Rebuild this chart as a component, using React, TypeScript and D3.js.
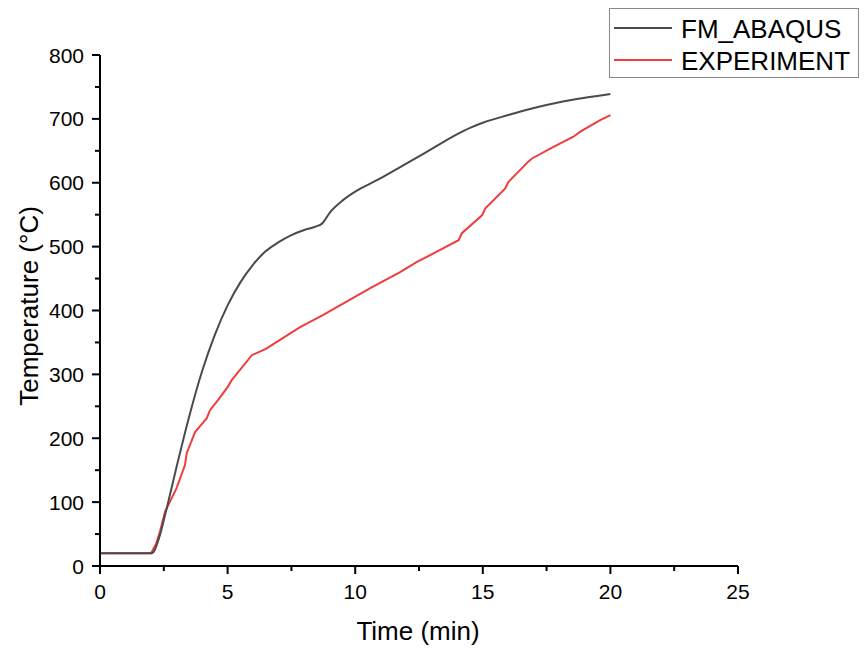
import React from "react";
import * as d3 from "d3";

const abaqusTime = [0, 2.0, 2.1, 2.3, 2.6, 3.0, 3.5, 4.0, 4.5, 5.0, 5.5, 6.0, 6.5, 7.0, 7.5, 8.0, 8.5, 8.7, 9.0, 9.5, 10, 10.85, 12, 13, 14, 14.5, 15, 16, 17, 18, 19, 20];
const abaqusTemp = [20, 20, 22, 42, 88, 155, 235, 305, 362, 408, 444, 472, 493, 507, 518, 526, 532, 536, 553, 572, 586, 604, 630, 653, 676, 686, 694, 706, 717, 726, 733, 739];

const expTime = [0, 2.0, 2.2, 2.35, 2.55, 3.0, 3.33, 3.4, 3.73, 4.18, 4.31, 4.63, 5.0, 5.16, 5.95, 6.5, 6.93, 7.84, 8.75, 9.54, 10.59, 11.76, 12.42, 13.2, 14.05, 14.18, 14.97, 15.1, 15.88, 16.0, 16.78, 16.93, 17.77, 18.55, 18.82, 19.6, 20];
const expTemp = [20, 20, 35, 54, 85, 122, 158, 177, 210, 231, 244, 260, 280, 291, 330, 340, 351, 374, 393, 411, 435, 460, 476, 492, 510, 521, 549, 560, 591, 601, 633, 638, 656, 672, 680, 698, 706];

const xTicks = [0, 5, 10, 15, 20, 25];
const yTicks = [0, 100, 200, 300, 400, 500, 600, 700, 800];
const seriesNames = ["FM_ABAQUS", "EXPERIMENT"];
const seriesColors = ["#4a4a4a", "#f03c3c"];

export default function App() {
  const W = 866, H = 650;
  const x = d3.scaleLinear().domain([0, 25]).range([100, 738]);
  const y = d3.scaleLinear().domain([0, 800]).range([566, 55]);
  const smooth = d3.line<[number, number]>().x(d => x(d[0])).y(d => y(d[1])).curve(d3.curveMonotoneX);
  const line = d3.line<[number, number]>().x(d => x(d[0])).y(d => y(d[1]));
  const abaqus = abaqusTime.map((t, i) => [t, abaqusTemp[i]] as [number, number]);
  const exp = expTime.map((t, i) => [t, expTemp[i]] as [number, number]);
  const xMinor = d3.range(2.5, 25, 5);
  const yMinor = d3.range(50, 800, 100);
  const font = "Arial, 'Liberation Sans', sans-serif";
  return (
    <svg width={W} height={H} style={{ position: "absolute", left: 0, top: 0, background: "#fff" }} fontFamily={font}>
      <rect width={W} height={H} fill="#fff" />
      <path d={line(exp) || ""} fill="none" stroke={seriesColors[1]} strokeWidth={2} />
      <path d={smooth(abaqus) || ""} fill="none" stroke={seriesColors[0]} strokeWidth={2} />
      <line x1={x(0)} x2={x(25)} y1={y(0)} y2={y(0)} stroke="#000" strokeWidth={2} />
      <line x1={x(0)} x2={x(0)} y1={y(0)} y2={y(800)} stroke="#000" strokeWidth={2} />
      {xTicks.map(t => (
        <g key={"xt" + t}>
          <line x1={x(t)} x2={x(t)} y1={y(0)} y2={y(0) + 8} stroke="#000" strokeWidth={2} />
          <text x={x(t)} y={y(0) + 33} textAnchor="middle" fontSize={21}>{t}</text>
        </g>
      ))}
      {xMinor.map(t => (
        <line key={"xm" + t} x1={x(t)} x2={x(t)} y1={y(0)} y2={y(0) + 5} stroke="#000" strokeWidth={2} />
      ))}
      {yTicks.map(v => (
        <g key={"yt" + v}>
          <line x1={x(0) - 8} x2={x(0)} y1={y(v)} y2={y(v)} stroke="#000" strokeWidth={2} />
          <text x={x(0) - 16} y={y(v) + 7.5} textAnchor="end" fontSize={21}>{v}</text>
        </g>
      ))}
      {yMinor.map(v => (
        <line key={"ym" + v} x1={x(0) - 5} x2={x(0)} y1={y(v)} y2={y(v)} stroke="#000" strokeWidth={2} />
      ))}
      <text x={418} y={640} textAnchor="middle" fontSize={26}>Time (min)</text>
      <text transform="translate(38,306) rotate(-90)" textAnchor="middle" fontSize={26}>Temperature (°C)</text>
      <rect x={609.5} y={8.5} width={249} height={69} fill="#fff" stroke="#888" strokeWidth={1} />
      {seriesNames.map((n, i) => (
        <g key={n}>
          <line x1={614} x2={672} y1={28 + i * 32} y2={28 + i * 32} stroke={seriesColors[i]} strokeWidth={2} />
          <text x={681} y={37.5 + i * 32} fontSize={26}>{n}</text>
        </g>
      ))}
    </svg>
  );
}
